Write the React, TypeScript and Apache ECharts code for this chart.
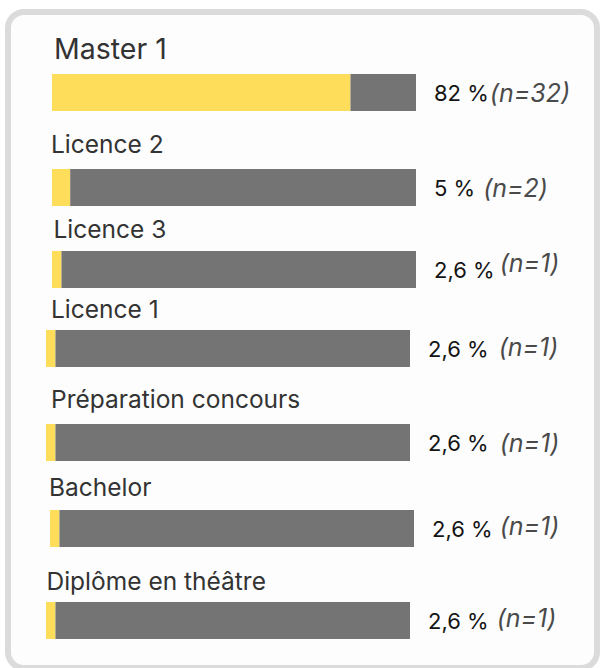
import React, { useEffect, useRef } from "react";
import * as echarts from "echarts";

// ---- data ----
const categories = [
  "Master 1",
  "Licence 2",
  "Licence 3",
  "Licence 1",
  "Préparation concours",
  "Bachelor",
  "Diplôme en théâtre",
];
const percentages = [82, 5, 2.6, 2.6, 2.6, 2.6, 2.6];
const counts = [32, 2, 1, 1, 1, 1, 1];
const scaleMax = 100;

// ---- layout (positions / styles only) ----
const rowLayout = [
  { left: 52, top: 74, titleX: 54, titleBase: 58, titleSize: 28.5, gap: 1, raise: 0 },
  { left: 52, top: 169, titleX: 51, titleBase: 152, titleSize: 24.5, gap: 8, raise: 0 },
  { left: 52, top: 251, titleX: 53.5, titleBase: 237, titleSize: 24.5, gap: 5, raise: 7 },
  { left: 46, top: 330, titleX: 51, titleBase: 317, titleSize: 24.5, gap: 10, raise: 2 },
  { left: 46, top: 424, titleX: 51, titleBase: 407, titleSize: 24.5, gap: 11, raise: 0 },
  { left: 50, top: 510, titleX: 49, titleBase: 495, titleSize: 24.5, gap: 7, raise: 3 },
  { left: 46, top: 602, titleX: 46.5, titleBase: 589, titleSize: 24.5, gap: 8, raise: 3 },
];
const BAR_W = 364;
const BAR_H = 37;
const FONT = "Inter, 'Open Sans', sans-serif";
const YELLOW = "#FEDD5A";
const GREY = "#747474";

function fmtPct(v: number): string {
  return String(v).replace(".", ",") + " %";
}

export default function App() {
  const ref = useRef<HTMLDivElement>(null);
  useEffect(() => {
    if (!ref.current) return;
    const chart = echarts.init(ref.current, undefined, { renderer: "svg" });

    const grids = rowLayout.map((r) => ({
      left: r.left,
      top: r.top,
      width: BAR_W,
      height: BAR_H,
      show: false,
    }));
    const xAxes = rowLayout.map((_, i) => ({
      gridIndex: i,
      type: "value",
      min: 0,
      max: scaleMax,
      show: false,
    }));
    const yAxes = rowLayout.map((_, i) => ({
      gridIndex: i,
      type: "category",
      data: [categories[i]],
      show: false,
    }));
    const series: any[] = [];
    categories.forEach((cat, i) => {
      const r = rowLayout[i];
      const half = r.raise / 2;
      series.push({
        type: "bar",
        name: cat + " (oui)",
        xAxisIndex: i,
        yAxisIndex: i,
        stack: "s" + i,
        barWidth: "100%",
        silent: true,
        itemStyle: { color: YELLOW },
        data: [percentages[i]],
      });
      series.push({
        type: "bar",
        name: cat + " (reste)",
        xAxisIndex: i,
        yAxisIndex: i,
        stack: "s" + i,
        barWidth: "100%",
        silent: true,
        itemStyle: { color: GREY },
        data: [scaleMax - percentages[i]],
        label: {
          show: true,
          position: "right",
          distance: 18,
          offset: [0, -half],
          formatter: () => `{v|${fmtPct(percentages[i])}}{n|(n=${counts[i]})}`,
          rich: {
            v: {
              fontFamily: FONT,
              fontSize: 22,
              color: "#141414",
              verticalAlign: "middle",
              padding: [r.raise, 0, 0, 0],
            },
            n: {
              fontFamily: FONT,
              fontSize: 25,
              fontStyle: "italic",
              color: "#4a4a4a",
              verticalAlign: "middle",
              padding: [0, 0, r.raise, r.gap],
            },
          },
        },
      });
    });

    const titles = categories.map((cat, i) => {
      const r = rowLayout[i];
      return {
        type: "text",
        z: 10,
        x: r.titleX,
        y: r.titleBase - 0.32 * r.titleSize,
        style: {
          text: cat,
          fontFamily: FONT,
          fontSize: r.titleSize,
          fill: "#333333",
          textAlign: "left",
          textVerticalAlign: "middle",
        },
      };
    });

    chart.setOption({
      animation: false,
      backgroundColor: "#ffffff",
      graphic: {
        elements: [
          {
            type: "rect",
            z: 0,
            shape: { x: 8, y: 12, width: 589, height: 656, r: 16 },
            style: { fill: "#fdfdfd", stroke: "#dbdbdb", lineWidth: 6 },
          },
          ...titles,
        ],
      },
      grid: grids,
      xAxis: xAxes,
      yAxis: yAxes,
      series,
    });
    return () => chart.dispose();
  }, []);
  return (
    <div
      ref={ref}
      style={{ position: "fixed", left: 0, top: 0, width: 600, height: 668 }}
    />
  );
}
